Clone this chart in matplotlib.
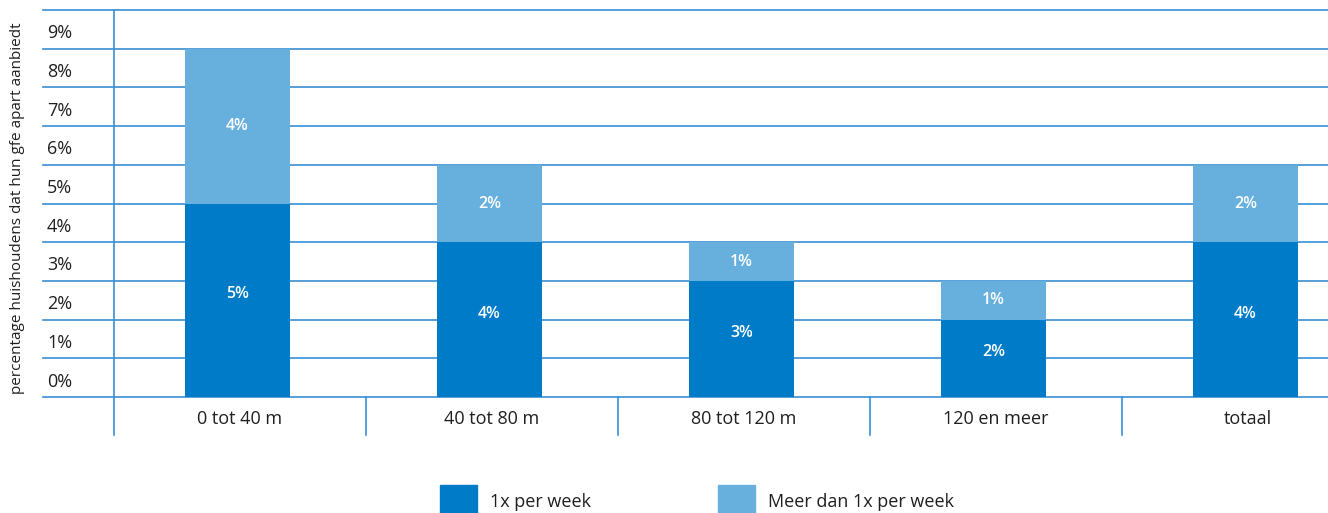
"""Stacked bars: share of households offering gfe separately, by distance."""

import matplotlib

matplotlib.use("Agg")
import matplotlib.pyplot as plt
import numpy as np
from matplotlib.patches import Rectangle
from matplotlib.transforms import blended_transform_factory

categories = ["0 tot 40 m", "40 tot 80 m", "80 tot 120 m", "120 en meer", "totaal"]
series_names = ["1x per week", "Meer dan 1x per week"]
once_weekly = [5, 4, 3, 2, 4]
more_weekly = [4, 2, 1, 1, 2]
tick_labels = [f"{k}%" for k in range(10)]

DARK = "#007bc7"
LIGHT = "#67afdc"
GRID = "#3a8fd3"
TEXT = "#1f1f1f"

plt.rcParams["font.family"] = ["Open Sans", "DejaVu Sans"]

fig = plt.figure(figsize=(13.28, 5.13), dpi=100)
ax = fig.add_axes([114 / 1328, 116 / 513, 1 - 114 / 1328, 387 / 513])

x = np.arange(len(categories))
bottom = np.array(once_weekly)
ax.bar(x - 0.01, once_weekly, width=0.42, color=DARK, zorder=3)
ax.bar(x - 0.01, more_weekly, width=0.42, bottom=bottom, color=LIGHT, zorder=3)

for i in x:
    ax.text(i - 0.01, once_weekly[i] / 2 + 0.15, f"{once_weekly[i]}%",
            ha="center", va="center", color="white", fontsize=11.5,
            fontweight="semibold", zorder=4)
    ax.text(i - 0.01, once_weekly[i] + more_weekly[i] / 2, f"{more_weekly[i]}%",
            ha="center", va="center", color="white", fontsize=11.5,
            fontweight="semibold", zorder=4)

ax.set_xlim(-0.5, -0.5 + (1328 - 114) / 252)
ax.set_ylim(0, 10)
for side in ax.spines.values():
    side.set_visible(False)

# horizontal rules run out past the tick labels
trans = blended_transform_factory(ax.transAxes, ax.transData)
x0 = (43 - 114) / (1328 - 114)
for k in range(11):
    ax.plot([x0, 1], [k, k], transform=trans, color=GRID, lw=1.2,
            clip_on=False, zorder=1)

# y axis line and category separators below the baseline
ax.plot([-0.5, -0.5], [-0.98, 10], color=GRID, lw=1.2, clip_on=False, zorder=2)
for b in np.arange(0.5, len(categories) - 0.5):
    ax.plot([b, b], [-0.98, 0], color=GRID, lw=1.2, clip_on=False, zorder=2)

ax.set_yticks(np.arange(10) + 0.45)
ax.set_yticklabels(tick_labels, fontsize=13, color=TEXT)
ax.tick_params(axis="y", length=0, pad=30)
ax.set_xticks(x)
ax.set_xticklabels(categories, fontsize=13, color=TEXT)
ax.tick_params(axis="x", length=0, pad=9)

fig.text(18 / 1328, 1 - 208 / 513,
         "percentage huishoudens dat hun gfe apart aanbiedt",
         rotation=90, ha="center", va="center", fontsize=11, color=TEXT)

# legend
for name, color, sx in zip(series_names, [DARK, LIGHT], [440, 718]):
    fig.add_artist(Rectangle((sx / 1328, -9 / 513), 37 / 1328, 37 / 513,
                             transform=fig.transFigure, color=color))
    fig.text((sx + 50) / 1328, 11 / 513, name, ha="left", va="center",
             fontsize=13, color=TEXT)

fig.savefig("out.png", dpi=100)
